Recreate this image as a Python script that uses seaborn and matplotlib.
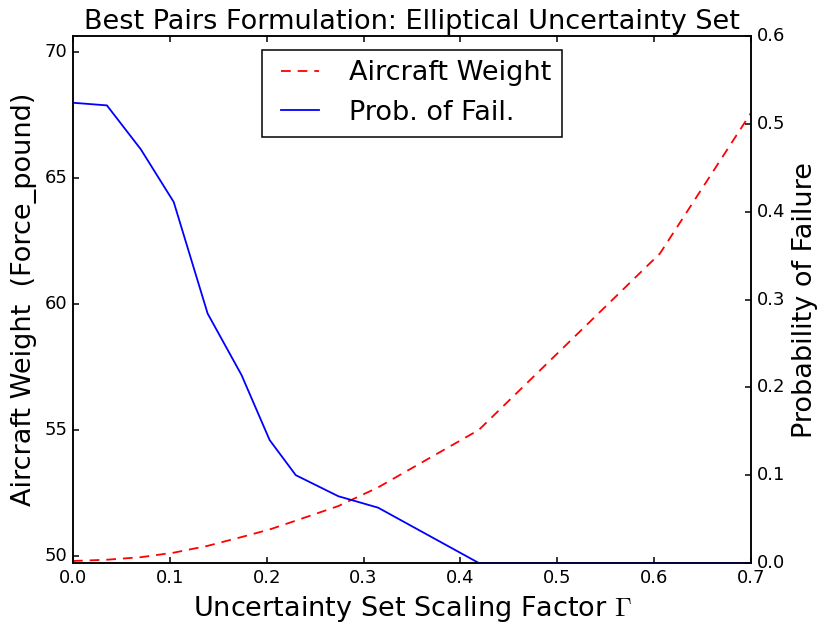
import matplotlib
matplotlib.use("Agg")
import matplotlib.pyplot as plt
import seaborn as sns
import pandas as pd

# Data
gamma = [0.0, 0.035, 0.070, 0.104, 0.139, 0.174, 0.203, 0.230, 0.274, 0.315, 0.419, 0.606, 0.700]
weight = [49.80, 49.85, 49.95, 50.13, 50.40, 50.75, 51.05, 51.40, 51.98, 52.72, 55.00, 62.00, 67.58]
prob_fail = [0.524, 0.521, 0.471, 0.411, 0.284, 0.214, 0.140, 0.100, 0.076, 0.063, 0.0, 0.0, 0.0]

df = pd.DataFrame({"gamma": gamma, "weight": weight, "prob": prob_fail})

plt.style.use("classic")
plt.rcParams["figure.facecolor"] = "white"
plt.rcParams["savefig.facecolor"] = "white"
plt.rcParams["font.family"] = ["DejaVu Sans"]
plt.rcParams["mathtext.fontset"] = "cm"
plt.rcParams["lines.scale_dashes"] = False

fig = plt.figure(figsize=(8.17, 6.25), dpi=100)
ax = fig.add_axes([73/817, 62/625, (751-73)/817, (563-36)/625])
ax2 = ax.twinx()

sns.lineplot(data=df, x="gamma", y="weight", ax=ax, color="red", linestyle=(0, (7, 5)),
             linewidth=1.3, label="Aircraft Weight", legend=False)
sns.lineplot(data=df, x="gamma", y="prob", ax=ax2, color="blue",
             linewidth=1.3, label="Prob. of Fail.", legend=False)

ax.set_xlim(0, 0.7)
ax.set_ylim(49.72, 70.63)
ax2.set_ylim(0, 0.6)
ax.set_xticks([0.0, 0.1, 0.2, 0.3, 0.4, 0.5, 0.6, 0.7])
ax.set_yticks([50, 55, 60, 65, 70])
ax2.set_yticks([0.0, 0.1, 0.2, 0.3, 0.4, 0.5, 0.6])

ax.set_xlabel(r"Uncertainty Set Scaling Factor $\Gamma$", fontsize=19.5)
ax.set_ylabel("Aircraft Weight  (Force_pound)", fontsize=19.5)
ax2.set_ylabel("Probability of Failure", fontsize=19.5)
ax.set_title("Best Pairs Formulation: Elliptical Uncertainty Set", fontsize=19.5)

for a in (ax, ax2):
    a.tick_params(labelsize=13, width=1.1)
    for s in a.spines.values():
        s.set_linewidth(1.1)

h1, l1 = ax.get_legend_handles_labels()
h2, l2 = ax2.get_legend_handles_labels()
leg = ax2.legend(h1 + h2, l1 + l2, loc="upper center", fontsize=19.5, fancybox=False)
leg.get_frame().set_linewidth(1.1)

fig.savefig("out.png", dpi=100)
